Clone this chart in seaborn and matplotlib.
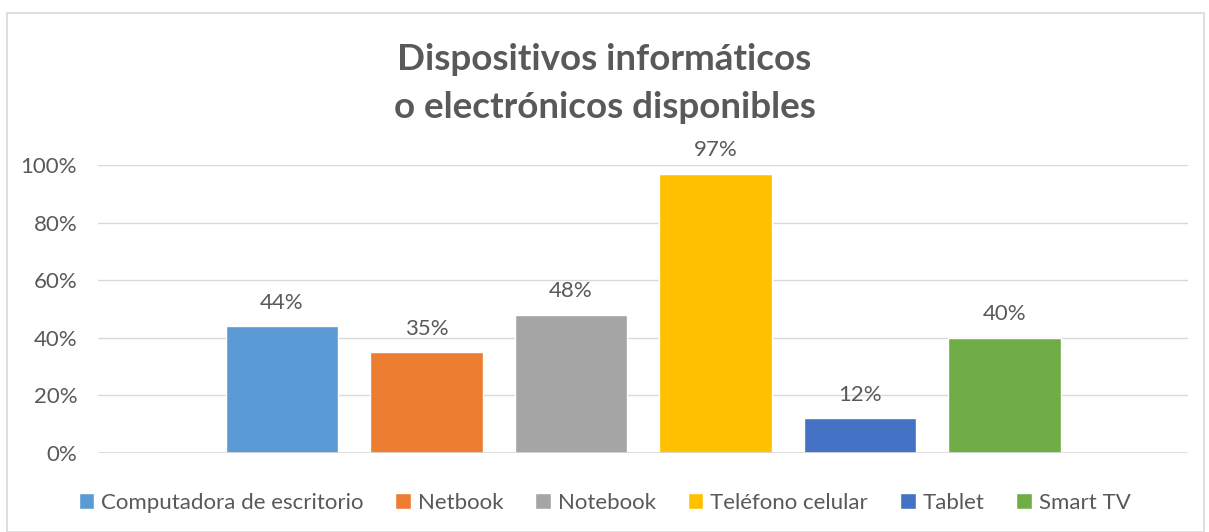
import matplotlib
matplotlib.use("Agg")
import matplotlib.pyplot as plt
from matplotlib.patches import Patch, Rectangle
from matplotlib.ticker import PercentFormatter
import seaborn as sns
import pandas as pd

categorias = ["Computadora de escritorio", "Netbook", "Notebook",
              "Teléfono celular", "Tablet", "Smart TV"]
valores = [44, 35, 48, 97, 12, 40]
colores = ["#5B9BD5", "#ED7D31", "#A5A5A5", "#FFC000", "#4472C4", "#70AD47"]

df = pd.DataFrame({"categoria": categorias, "valor": valores})

sns.set_style("white")
plt.rcParams["font.family"] = ["Lato", "DejaVu Sans"]
gris = "#595959"

fig = plt.figure(figsize=(12.09, 5.32), dpi=100)
ax = fig.add_axes([98 / 1209, 1 - 453 / 532, (1188 - 98) / 1209, (453 - 165) / 532])

sns.barplot(data=df, x="categoria", y="valor", hue="categoria",
            palette=colores, order=categorias, hue_order=categorias,
            width=0.78, saturation=1, legend=False, ax=ax, zorder=3)

for i, v in enumerate(valores):
    ax.text(i, v + 4.7, f"{v}%", ha="center", va="bottom", fontsize=16, color=gris)

ax.set_xlim(-1.273, 6.27)
ax.set_ylim(0, 100)
ax.set_yticks(range(0, 101, 20))
ax.yaxis.set_major_formatter(PercentFormatter(decimals=0))
ax.grid(axis="y", color="#D9D9D9", linewidth=1, zorder=0)
ax.set_xticks([])
ax.set_xlabel("")
ax.set_ylabel("")
for s in ax.spines.values():
    s.set_visible(False)
ax.tick_params(axis="y", length=0, labelsize=16, labelcolor=gris, pad=15)
ax.axhline(0, color="#D9D9D9", linewidth=1.2, zorder=4)

fig.text(0.5, 1 - 60 / 532, "Dispositivos informáticos", ha="center", va="center",
         fontsize=26.5, fontweight="bold", color=gris)
fig.text(0.5, 1 - 108 / 532, "o electrónicos disponibles", ha="center", va="center",
         fontsize=26.5, fontweight="bold", color=gris)

handles = [Patch(facecolor=c, label=l) for c, l in zip(colores, categorias)]
fig.legend(handles=handles, loc="center", bbox_to_anchor=(0.5, 1 - 503 / 532),
           ncol=6, frameon=False, fontsize=16, labelcolor=gris,
           handlelength=0.7, handleheight=0.7, handletextpad=0.3, columnspacing=1.45)

fig.patches.append(Rectangle((7 / 1209, 0), 1197 / 1209, 1 - 13 / 532, transform=fig.transFigure,
                             fill=False, edgecolor="#D9D9D9", linewidth=1.2))

fig.savefig("out.png", dpi=100, facecolor="white")
